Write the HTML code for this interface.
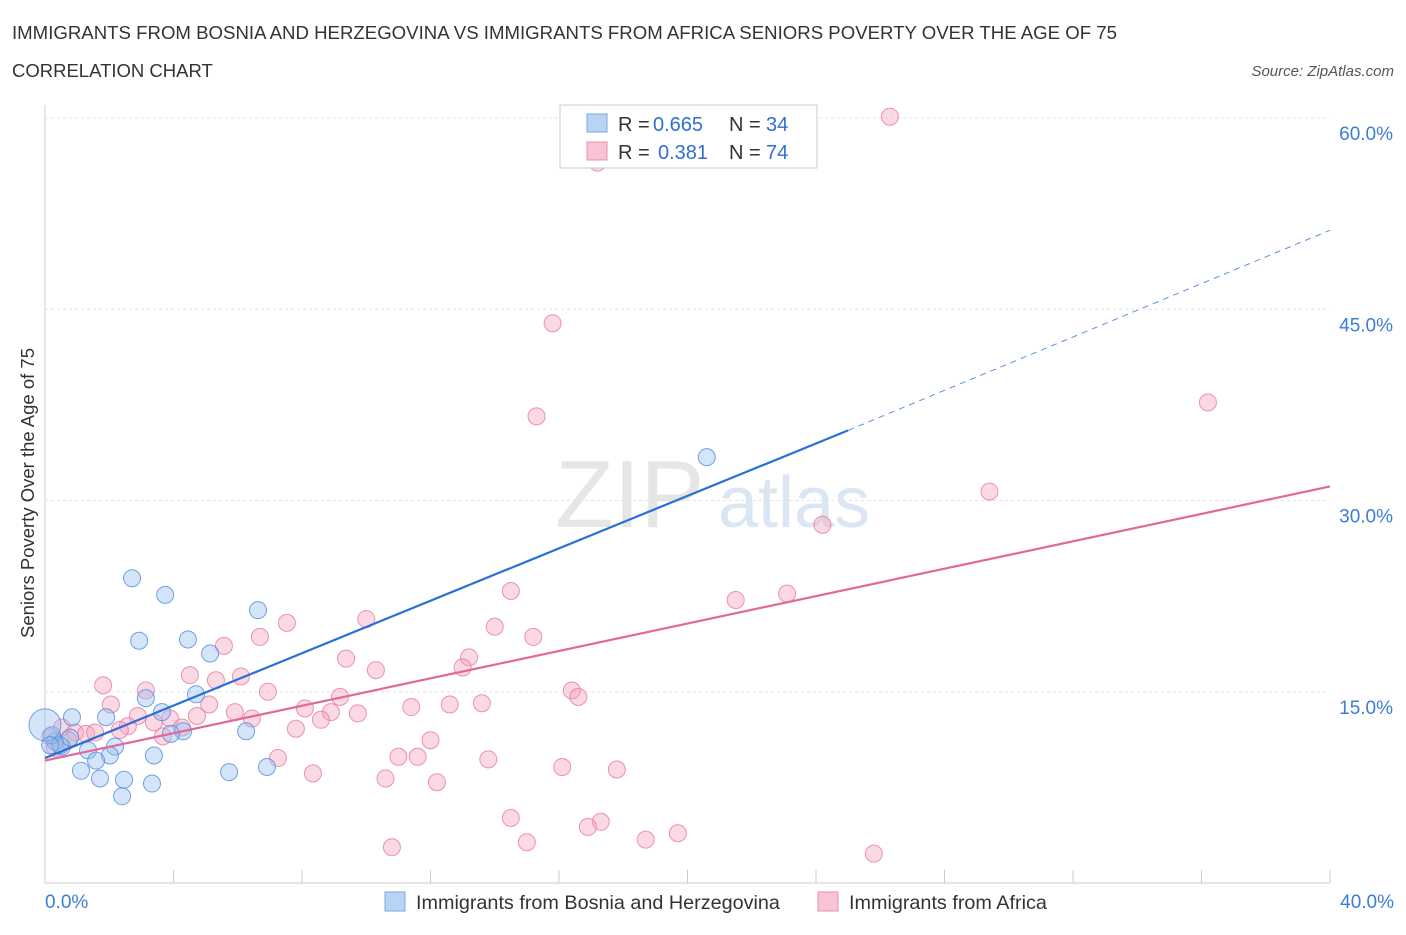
<!DOCTYPE html>
<html><head><meta charset="utf-8"><style>
body{margin:0;background:#fff;font-family:"Liberation Sans",sans-serif;}
svg text{font-family:"Liberation Sans",sans-serif;}
</style></head><body>
<svg id="chart" width="1406" height="930" xmlns="http://www.w3.org/2000/svg">
<text x="12" y="39" font-size="18.5" fill="#333" textLength="1105" lengthAdjust="spacingAndGlyphs">IMMIGRANTS FROM BOSNIA AND HERZEGOVINA VS IMMIGRANTS FROM AFRICA SENIORS POVERTY OVER THE AGE OF 75</text>
<text x="12" y="77" font-size="18.5" fill="#333">CORRELATION CHART</text>
<text x="1394" y="76" font-size="15" fill="#555" text-anchor="end" font-style="italic">Source: ZipAtlas.com</text>
<text x="555" y="527" font-size="96" fill="#e6e6e6" font-family="Liberation Serif">ZIP</text>
<text x="718" y="527" font-size="72" fill="#dbe6f4">atlas</text>
<text transform="translate(34,493) rotate(-90)" font-size="18.5" fill="#333" text-anchor="middle">Seniors Poverty Over the Age of 75</text>
<g id="grid"></g><g id="marks"></g>
<g>
<rect x="560" y="105" width="257" height="63" fill="#fff" stroke="#ccc"/>
<rect x="587" y="114" width="20" height="18" fill="#b9d3f5" stroke="#7aa7e0"/>
<rect x="587" y="142" width="20" height="18" fill="#f8c4d3" stroke="#e890ad"/>
<text x="618" y="131" font-size="20" fill="#333">R =</text>
<text x="653" y="131" font-size="20" fill="#2f6fd6">0.665</text>
<text x="729" y="131" font-size="20" fill="#333">N =</text>
<text x="766" y="131" font-size="20" fill="#2f6fd6">34</text>
<text x="618" y="159" font-size="20" fill="#333">R =</text>
<text x="658" y="159" font-size="20" fill="#2f6fd6">0.381</text>
<text x="729" y="159" font-size="20" fill="#333">N =</text>
<text x="766" y="159" font-size="20" fill="#2f6fd6">74</text>
</g>
<g>
<rect x="385" y="892" width="20" height="19" fill="#b9d3f5" stroke="#7aa7e0"/>
<text x="416" y="909" font-size="19.8" fill="#333">Immigrants from Bosnia and Herzegovina</text>
<rect x="818" y="892" width="20" height="19" fill="#f8c4d3" stroke="#e890ad"/>
<text x="849" y="909" font-size="19.8" fill="#333">Immigrants from Africa</text>
</g>
</svg>
<script>
const yTicks=[15,30,45,60];
const yTickLabels=["15.0%","30.0%","45.0%","60.0%"];
const xEndLabels=["0.0%","40.0%"];
const blueX=[2.71,3.74,2.93,4.45,6.63,5.14,4.70,3.14,3.64,1.90,0.84,4.30,3.92,6.26,2.18,1.34,0.53,0.31,0.22,2.02,1.59,1.12,1.71,2.46,3.33,2.40,3.39,5.73,6.91,20.6,0,0.47,0.78,0.16];
const blueY=[23.9,22.6,19.0,19.1,21.4,18.0,14.8,14.5,13.4,13.0,13.0,11.9,11.7,11.9,10.7,10.4,10.7,11.1,11.6,10.0,9.6,8.8,8.2,8.1,7.8,6.8,10.0,8.7,9.1,33.4,12.4,10.8,11.4,10.8];
const pinkX=[26.3,17.2,15.8,15.3,36.2,29.4,24.2,14.5,21.5,23.1,10.0,7.53,6.69,15.2,14.0,5.57,9.37,10.3,13.2,13.0,6.10,4.51,5.32,1.81,3.14,6.94,16.4,16.6,5.11,2.05,9.18,13.6,8.09,11.4,12.6,2.89,5.91,6.44,4.73,9.74,8.90,8.59,3.89,3.39,2.58,2.33,7.81,4.26,3.67,0.53,0.93,1.28,1.56,0.16,12.0,7.25,11.0,11.6,13.8,8.34,16.1,17.8,10.6,12.2,14.5,17.3,16.9,19.7,18.7,15.0,10.8,25.8,0.72,0.31];
const pinkY=[60.1,56.5,43.9,36.6,37.7,30.7,28.1,22.9,22.2,22.7,20.7,20.4,19.3,19.3,20.1,18.6,17.6,16.7,17.7,16.9,16.2,16.3,15.9,15.5,15.1,15.0,15.1,14.6,14.0,14.0,14.6,14.1,13.7,13.8,14.0,13.1,13.4,12.9,13.1,13.3,13.4,12.8,12.9,12.6,12.3,12.0,12.1,12.2,11.5,12.2,11.8,11.7,11.8,11.5,11.2,9.8,9.9,9.9,9.7,8.6,9.1,8.9,8.2,7.9,5.1,4.8,4.4,3.9,3.4,3.2,2.8,2.3,11.2,10.6];
const blueLine=[[0,9.8],[25,35.5],[40,51.2]];
const pinkLine=[[0,9.6],[40,31.1]];
const X=v=>45+v*32.125, Y=v=>883-v*12.75;
const NS="http://www.w3.org/2000/svg";
function mk(t,a,p){const e=document.createElementNS(NS,t);for(const k in a)e.setAttribute(k,a[k]);p.appendChild(e);return e;}
const g=document.getElementById('grid'), m=document.getElementById('marks');
mk('line',{x1:45,y1:105,x2:45,y2:883,stroke:'#ccc'},g);
mk('line',{x1:45,y1:883,x2:1330,y2:883,stroke:'#ccc'},g);
yTicks.forEach((v,i)=>{
 const l=mk('line',{x1:45,y1:Y(v),x2:1330,y2:Y(v),stroke:'#e3e3e3','stroke-dasharray':'3,3'},g);
 
 
 const t=mk('text',{x:1393,y:Y(v)+22,'font-size':19,fill:'#3b7dd8','text-anchor':'end'},g);
 t.textContent=yTickLabels[i];
 
 
});
for(let v=0;v<=40;v+=4){const l=mk('line',{x1:X(v),y1:870,x2:X(v),y2:883,stroke:'#ccc'},g);
 
 }
[[0,'start',45],[40,'end',1394]].forEach((d,i)=>{const t=mk('text',{x:d[2],y:908,'font-size':19,fill:'#3b7dd8','text-anchor':d[1]},g);t.textContent=xEndLabels[i];
 
 });
pinkX.forEach((x,i)=>{const c=mk('circle',{cx:X(x),cy:Y(pinkY[i]),r:8.5,fill:'rgba(244,160,188,0.4)',stroke:'rgba(232,120,160,0.8)'},m);
 
 });
blueX.forEach((x,i)=>{const c=mk('circle',{cx:X(x),cy:Y(blueY[i]),r:(x===0?16:8.5),fill:'rgba(150,190,240,0.4)',stroke:'rgba(80,140,220,0.8)'},m);
 
 });
let l1=mk('line',{x1:X(blueLine[0][0]),y1:Y(blueLine[0][1]),x2:X(blueLine[1][0]),y2:Y(blueLine[1][1]),stroke:'#2a6fd8','stroke-width':2.2},m);


let l2=mk('line',{x1:X(blueLine[1][0]),y1:Y(blueLine[1][1]),x2:X(blueLine[2][0]),y2:Y(blueLine[2][1]),stroke:'#5a90e0','stroke-width':1,'stroke-dasharray':'6,5'},m);


let l3=mk('line',{x1:X(pinkLine[0][0]),y1:Y(pinkLine[0][1]),x2:X(pinkLine[1][0]),y2:Y(pinkLine[1][1]),stroke:'#e2689a','stroke-width':2.2},m);


</script>
</body></html>
